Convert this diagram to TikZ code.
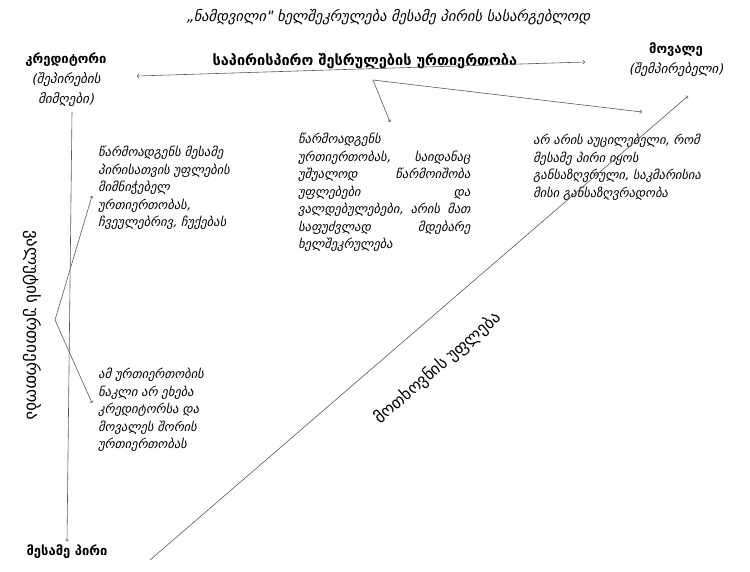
\documentclass[tikz,border=0pt]{standalone}
\usepackage{fontspec}
\setmainfont{DejaVu Sans}
\newfontfamily\geoit[FakeSlant=0.22]{DejaVu Sans}
\usepackage{tikz}

\begin{document}
\begin{tikzpicture}[x=1pt,y=-1pt,
  lbl/.style={font=\fontsize{13}{20}\selectfont,align=center},
  blk/.style={anchor=north west,inner sep=0pt,align=left,font=\geoit\fontsize{12.5}{17.5}\selectfont},
  arr/.style={->,draw=black!65,line width=0.6pt}]
  \useasboundingbox (0,0) rectangle (750,571);

  \node (title) at (388,17){\geoit\fontsize{14.5}{16}\selectfont „ნამდვილი" ხელშეკრულება მესამე პირის სასარგებლოდ};

  \node[lbl] (kred) at (66,80){\bfseries კრედიტორი\\{\geoit(შეპირების}\\{\geoit მიმღები)}};
  \node[lbl] (mov) at (676,60){\bfseries მოვალე\\{\geoit(შემპირებელი)}};
  \node[lbl,font=\bfseries\fontsize{13}{15}\selectfont] (mesame) at (67,552){მესამე პირი};
  \node[lbl,font=\bfseries\fontsize{14.5}{16}\selectfont] (orm) at (365,61){საპირისპირო შესრულების ურთიერთობა};
  \node[lbl,font=\fontsize{17}{18}\selectfont,rotate=-90] (val) at (32,325){ვალუტის ურთიერთობა};
  \node[lbl,font=\fontsize{16.5}{18}\selectfont,rotate=40.8] (mthx) at (438,368){მოთხოვნის უფლება};

  \node[blk] (blk1) at (98,146){წარმოადგენს მესამე\\პირისათვის უფლების\\მიმნიჭებელ\\ურთიერთობას,\\ჩვეულებრივ, ჩუქებას};
  \node[blk,text width=172pt] (blk2) at (298,133){წარმოადგენს\\ურთიერთობას, \hfill საიდანაც\\უშუალოდ \hfill წარმოიშობა\\უფლებები \hfill და\\ვალდებულებები, \hfill არის \hfill მათ\\საფუძვლად \hfill მდებარე\\ხელშეკრულება};
  \node[blk] (blk3) at (533,134){არ არის აუცილებელი, რომ\\მესამე პირი იყოს\\განსაზღვრული, საკმარისია\\მისი განსაზღვრადობა};
  \node[blk] (blk4) at (98,368){ამ ურთიერთობის\\ნაკლი არ ეხება\\კრედიტორსა და\\მოვალეს შორის\\ურთიერთობას};

  \coordinate (hl) at (137,76);
  \coordinate (hr) at (585,62);
  \coordinate (fork1) at (373,80);
  \coordinate (f1a) at (390,122);
  \coordinate (f1b) at (642,112);
  \coordinate (vtop) at (72,112);
  \coordinate (fork2) at (55,320);
  \coordinate (f2a) at (92,196);
  \coordinate (f2b) at (92,403);
  \coordinate (dl) at (150,560);
  \coordinate (dr) at (688,96);

  \draw[arr,<->] (hl) -- (hr);
  \draw[arr] (fork1) -- (f1a);
  \draw[arr] (fork1) -- (f1b);
  \draw[arr] (vtop) -- (mesame.north);
  \draw[arr] (fork2) -- (f2a);
  \draw[arr] (fork2) -- (f2b);
  \draw[arr] (dl) -- (dr);

\end{tikzpicture}
\end{document}
